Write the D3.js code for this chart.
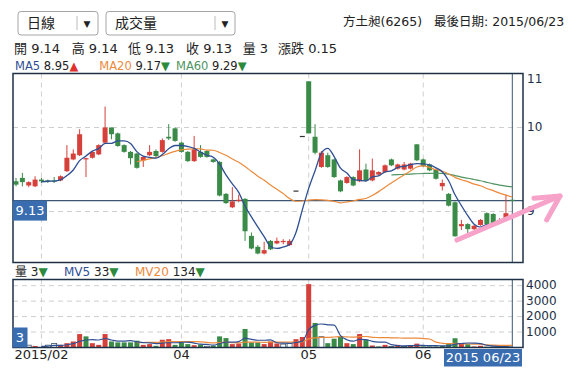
<!DOCTYPE html>
<meta charset="utf-8">
<script src="https://d3js.org/d3.v7.min.js"></script>
<style>
body { margin: 0; background: #fff; }
svg text { font-family: "DejaVu Sans", "Noto Sans CJK TC", sans-serif; fill: #222; }
</style>
<body>
<svg width="581" height="382"></svg>
<script>
// ---- data (daily candles, 2015) ----
var open  = [9.36,9.40,9.31,9.30,9.38,9.37,9.37,9.37,9.48,9.62, 9.67,9.62,9.64,9.68,9.82,10.0,9.93,9.79,9.71,9.69,
             9.61,9.67,9.72,9.71,9.89,9.99,9.82,9.71,9.60,9.71, 9.72,9.62,9.59,9.21,9.05,9.13,9.15,8.71,8.58,8.50,
             8.65,8.62,8.64,8.60,9.25,9.90,10.55,9.89,9.53,9.67, 9.62,9.37,9.34,9.41,9.36,9.50,9.37,9.44,9.47,9.62,
             9.51,9.50,9.51,9.80,9.62,9.56,9.50,9.30,9.21,9.11, 8.825,8.85,8.79,8.84,8.98,8.97,8.89,8.905,9.14];
var high  = [9.40,9.46,9.36,9.42,9.40,9.38,9.41,9.43,9.79,9.74, 9.98,9.64,9.72,9.80,10.25,10.0,9.94,9.80,9.72,9.70,
             9.66,9.79,9.74,9.87,10.04,10.0,9.83,9.72,9.90,9.79, 9.73,9.63,9.60,9.22,9.29,9.20,9.16,8.75,8.60,8.64,
             8.66,8.69,8.67,8.67,9.25,9.90,10.55,10.04,9.72,9.70, 9.63,9.38,9.42,9.42,9.74,9.57,9.63,9.48,9.56,9.63,
             9.57,9.59,9.58,9.80,9.63,9.57,9.51,9.38,9.22,9.12, 8.90,8.86,8.84,8.91,8.99,8.98,8.92,9.20,9.14];
var low   = [9.30,9.30,9.29,9.29,9.34,9.34,9.34,9.36,9.47,9.61, 9.66,9.41,9.63,9.67,9.81,9.86,9.77,9.70,9.56,9.51,
             9.53,9.66,9.64,9.70,9.85,9.83,9.70,9.59,9.59,9.64, 9.64,9.58,9.18,9.09,9.04,9.11,8.65,8.55,8.49,8.49,
             8.54,8.61,8.61,8.59,9.25,9.90,9.93,9.68,9.52,9.52, 9.40,9.23,9.33,9.30,9.35,9.36,9.36,9.43,9.46,9.54,
             9.50,9.49,9.50,9.60,9.53,9.48,9.38,9.25,9.06,8.70, 8.78,8.74,8.78,8.83,8.84,8.84,8.87,8.90,9.13];
var close = [9.32,9.35,9.35,9.38,9.36,9.36,9.36,9.42,9.64,9.69, 9.92,9.635,9.71,9.79,10.0,9.92,9.78,9.71,9.635,9.52,
             9.65,9.71,9.66,9.85,9.87,9.84,9.71,9.60,9.74,9.65, 9.65,9.59,9.19,9.10,9.12,9.14,8.765,8.56,8.50,8.54,
             8.55,8.65,8.65,8.65,9.25,9.90,9.93,9.70,9.70,9.53, 9.41,9.24,9.41,9.31,9.49,9.365,9.49,9.47,9.55,9.55,
             9.56,9.56,9.57,9.61,9.54,9.49,9.39,9.34,9.07,8.705, 8.85,8.79,8.83,8.90,8.85,8.85,8.90,8.98,9.13];
var volume = [60,40,150,100,30,150,260,170,280,390, 870,720,280,170,870,390,330,330,330,440,
              170,220,110,500,540,170,330,220,150,200, 80,120,720,610,220,260,1200,330,330,220,
              390,260,220,260,540,680,4100,1590,700,280, 570,700,280,220,870,480,130,65,170,65,
              170,65,130,250,65,65,65,110,240,600, 280,220,65,110,50,30,40,40,3];

var tickIdx = [4, 26, 46, 64];
var tickLabels = ["2015/02", "04", "05", "06"];
var priceTicks = [9, 10, 11];
var volTicks = [1000, 2000, 3000, 4000];

var stockName = "方土昶(6265)";
var lastDate = "2015/06/23";
var lastDateLabel = "2015 06/23";
var quoteLabels = ["開", "高", "低", "收", "量", "漲跌"];
var quoteValues = ["9.14", "9.14", "9.13", "9.13", "3", "0.15"];
var maNames = ["MA5", "MA20", "MA60"];
var maValues = ["8.95", "9.17", "9.29"];
var maUp = [true, false, false];
var mvNames = ["MV5", "MV20"];
var mvValues = ["33", "134"];
var lastVolLabel = "3";

// hand drawn pink arrow (index, price)
var arrowShaft = [[69.3, 8.66], [85.5, 9.185]];
var arrowHead = [[81.4, 9.157], [85.5, 9.185], [83.4, 8.90]];

// ---- layout ----
var svg = d3.select("svg");
var L = 13, R = 523, mTop = 73.5, mBot = 262.5, vTop = 279.5, vBot = 347.5;
var RED = "#d6403b", GREEN = "#3a8a48", BLUE = "#2f4f93", ORANGE = "#ec8a3c", MGREEN = "#4f9463";
var NAVY = "#1d3045", CROSS = "#3a5672", LABELBG = "#3a6db0";

var n = close.length;
var x = d3.scaleLinear().domain([0, n - 1]).range([16, 512.3]);
var y = d3.scaleLinear().domain([8.393, 10.643]).range([mBot, mTop]);
var yv = d3.scaleLinear().domain([0, 4400]).range([vBot, vTop]);

function ma(arr, k) {
    return arr.map(function(d, i) { return i < k - 1 ? null : d3.mean(arr.slice(i - k + 1, i + 1)); });
}

/* ----------- header ----------- */
function dropdown(x0, w, sepX, label) {
    svg.append("rect").attr("x", x0).attr("y", 11.5).attr("width", w).attr("height", 23.5)
        .attr("rx", 3).attr("fill", "#fff").attr("stroke", "#a5a5a5");
    svg.append("line").attr("x1", sepX).attr("x2", sepX).attr("y1", 16).attr("y2", 30).attr("stroke", "#bbb");
    svg.append("text").attr("x", x0 + 9).attr("y", 23.5).attr("dominant-baseline", "middle")
        .style("font-size", "14px").text(label);
    svg.append("text").attr("x", sepX + 10).attr("y", 24).attr("dominant-baseline", "middle")
        .attr("text-anchor", "middle").style("font-size", "9px").text("▼");
}
dropdown(18, 80, 77, "日線");
dropdown(106, 129, 215, "成交量");

svg.append("text").attr("x", 343).attr("y", 22).attr("dominant-baseline", "middle")
    .style("font-size", "12.5px").text(stockName);
svg.append("text").attr("x", 434).attr("y", 22).attr("dominant-baseline", "middle")
    .style("font-size", "12.5px").text("最後日期: " + lastDate);

var quoteX = [14, 71.7, 128, 186, 242.7, 278];
quoteLabels.forEach(function(lab, i) {
    svg.append("text").attr("x", quoteX[i]).attr("y", 49).attr("dominant-baseline", "middle")
        .style("font-size", "13px").text(lab + " " + quoteValues[i]);
});

var maColors = [BLUE, ORANGE, MGREEN];
var maX = [15, 99.3, 176];
maNames.forEach(function(nm, i) {
    var t = svg.append("text").attr("x", maX[i]).attr("y", 66).attr("dominant-baseline", "middle")
        .style("font-size", "11.5px");
    t.append("tspan").style("fill", maColors[i]).text(nm + " ");
    t.append("tspan").text(maValues[i]);
    t.append("tspan").style("fill", maUp[i] ? "#e0302c" : "#2c8a3c").text(maUp[i] ? "▲" : "▼");
});

var vh = svg.append("text").attr("x", 15).attr("y", 272).attr("dominant-baseline", "middle").style("font-size", "12px");
vh.append("tspan").text("量 " + lastVolLabel);
vh.append("tspan").style("fill", "#2c8a3c").text("▼");
var mvX = [64, 135], mvColors = [BLUE, ORANGE];
mvNames.forEach(function(nm, i) {
    var t = svg.append("text").attr("x", mvX[i]).attr("y", 272).attr("dominant-baseline", "middle").style("font-size", "12px");
    t.append("tspan").style("fill", mvColors[i]).text(nm + " ");
    t.append("tspan").text(mvValues[i]);
    t.append("tspan").style("fill", "#2c8a3c").text("▼");
});

/* ----------- grids ----------- */
var grid = svg.append("g").attr("stroke", "#cfcfcf").attr("stroke-dasharray", "5,4");
tickIdx.forEach(function(i) {
    grid.append("line").attr("x1", x(i)).attr("x2", x(i)).attr("y1", mTop).attr("y2", mBot);
    grid.append("line").attr("x1", x(i)).attr("x2", x(i)).attr("y1", vTop).attr("y2", vBot);
});
priceTicks.filter(function(v) { return y(v) > mTop && y(v) < mBot; }).forEach(function(v) {
    grid.append("line").attr("x1", L).attr("x2", R).attr("y1", y(v)).attr("y2", y(v));
});
volTicks.forEach(function(v) {
    grid.append("line").attr("x1", L).attr("x2", R).attr("y1", yv(v)).attr("y2", yv(v));
});

/* ----------- crosshair ----------- */
var last = n - 1;
svg.append("line").attr("x1", L).attr("x2", R).attr("y1", y(close[last])).attr("y2", y(close[last]))
    .attr("stroke", CROSS).attr("stroke-width", 1.2);
svg.append("line").attr("x1", x(last)).attr("x2", x(last)).attr("y1", mTop).attr("y2", mBot)
    .attr("stroke", CROSS).attr("stroke-width", 1);
svg.append("line").attr("x1", x(last)).attr("x2", x(last)).attr("y1", vTop).attr("y2", vBot)
    .attr("stroke", CROSS).attr("stroke-width", 1);

/* ----------- volume bars ----------- */
function volColor(i) {
    var prev = i > 0 ? close[i - 1] : open[i];
    return close[i] > prev ? RED : close[i] < prev ? GREEN : null;
}
svg.append("g").selectAll("rect").data(volume).enter().append("rect")
    .attr("x", function(d, i) { return x(i) - 2.5; })
    .attr("width", 5)
    .attr("y", function(d) { return yv(d); })
    .attr("height", function(d) { return vBot - yv(d); })
    .attr("fill", function(d, i) { return volColor(i) || "#fff"; })
    .attr("stroke", function(d, i) { return volColor(i) ? "none" : "#3b4f66"; })
    .attr("stroke-width", 0.8);

var vline = d3.line().defined(function(d) { return d != null; })
    .x(function(d, i) { return x(i); }).y(function(d) { return yv(d); }).curve(d3.curveMonotoneX);
svg.append("path").attr("d", vline(ma(volume, 20))).attr("fill", "none").attr("stroke", ORANGE).attr("stroke-width", 1.2);
svg.append("path").attr("d", vline(ma(volume, 5))).attr("fill", "none").attr("stroke", BLUE).attr("stroke-width", 1.2);

/* ----------- candles ----------- */
function candleColor(i) {
    return close[i] > open[i] ? RED : close[i] < open[i] ? GREEN : "#333";
}
var candles = svg.append("g").selectAll("g").data(close).enter().append("g");
candles.append("line")
    .attr("x1", function(d, i) { return x(i); }).attr("x2", function(d, i) { return x(i); })
    .attr("y1", function(d, i) { return y(high[i]); }).attr("y2", function(d, i) { return y(low[i]); })
    .attr("stroke", function(d, i) { return candleColor(i); });
candles.append("rect")
    .attr("x", function(d, i) { return x(i) - 2.5; })
    .attr("width", 5)
    .attr("y", function(d, i) { return y(Math.max(open[i], close[i])); })
    .attr("height", function(d, i) { return Math.max(1.2, Math.abs(y(open[i]) - y(close[i]))); })
    .attr("fill", function(d, i) { return candleColor(i); });

/* ----------- moving averages ----------- */
var pline = d3.line().defined(function(d) { return d != null; })
    .x(function(d, i) { return x(i); }).y(function(d) { return y(d); }).curve(d3.curveMonotoneX);
svg.append("path").attr("d", pline(ma(close, 60))).attr("fill", "none").attr("stroke", MGREEN).attr("stroke-width", 1.2);
svg.append("path").attr("d", pline(ma(close, 20))).attr("fill", "none").attr("stroke", ORANGE).attr("stroke-width", 1.2);
svg.append("path").attr("d", pline(ma(close, 5))).attr("fill", "none").attr("stroke", BLUE).attr("stroke-width", 1.3);

/* ----------- panel borders ----------- */
svg.append("rect").attr("x", L).attr("y", mTop).attr("width", R - L).attr("height", mBot - mTop)
    .attr("fill", "none").attr("stroke", NAVY).attr("stroke-width", 1.5);
svg.append("rect").attr("x", L).attr("y", vTop).attr("width", R - L).attr("height", vBot - vTop)
    .attr("fill", "none").attr("stroke", NAVY).attr("stroke-width", 1.5);

/* ----------- axis labels ----------- */
priceTicks.forEach(function(v) {
    svg.append("text").attr("x", 527).attr("y", Math.max(y(v), mTop + 6))
        .attr("dominant-baseline", "middle").style("font-size", "12px").style("fill", NAVY).text(v);
});
volTicks.forEach(function(v) {
    svg.append("text").attr("x", 526).attr("y", yv(v))
        .attr("dominant-baseline", "middle").style("font-size", "12px").style("fill", NAVY).text(v);
});
tickIdx.forEach(function(i, k) {
    svg.append("text").attr("x", x(i)).attr("y", 355.5).attr("text-anchor", "middle")
        .attr("dominant-baseline", "middle").style("font-size", "13px").text(tickLabels[k]);
});

/* ----------- crosshair labels ----------- */
var py = y(close[last]);
svg.append("rect").attr("x", L).attr("y", py).attr("width", 34).attr("height", 20).attr("fill", LABELBG);
svg.append("text").attr("x", L + 17).attr("y", py + 10.5).attr("text-anchor", "middle")
    .attr("dominant-baseline", "middle").style("font-size", "13px").style("fill", "#fff").text(close[last].toFixed(2));

var vy = Math.min(yv(volume[last]) - 10, vBot - 20);
svg.append("rect").attr("x", L - 0.5).attr("y", vy).attr("width", 15).attr("height", 20).attr("fill", LABELBG);
svg.append("text").attr("x", L + 7).attr("y", vy + 10.5).attr("text-anchor", "middle")
    .attr("dominant-baseline", "middle").style("font-size", "13px").style("fill", "#fff").text(lastVolLabel);

var bw = 78, bx = Math.min(x(last) + bw / 2, R - 1) - bw;
svg.append("rect").attr("x", bx).attr("y", 349).attr("width", bw).attr("height", 17.5).attr("fill", LABELBG);
svg.append("text").attr("x", bx + bw / 2).attr("y", 358).attr("text-anchor", "middle")
    .attr("dominant-baseline", "middle").style("font-size", "13px").style("fill", "#fff").text(lastDateLabel);

/* ----------- pink arrow ----------- */
var aline = d3.line().x(function(d) { return x(d[0]); }).y(function(d) { return y(d[1]); });
svg.append("path").attr("d", aline(arrowShaft)).attr("fill", "none").attr("stroke", "#f7a3c9")
    .attr("stroke-width", 5).attr("stroke-linecap", "round");
svg.append("path").attr("d", aline(arrowHead)).attr("fill", "none").attr("stroke", "#f7a3c9")
    .attr("stroke-width", 5).attr("stroke-linecap", "round").attr("stroke-linejoin", "round");
</script>
</body>
